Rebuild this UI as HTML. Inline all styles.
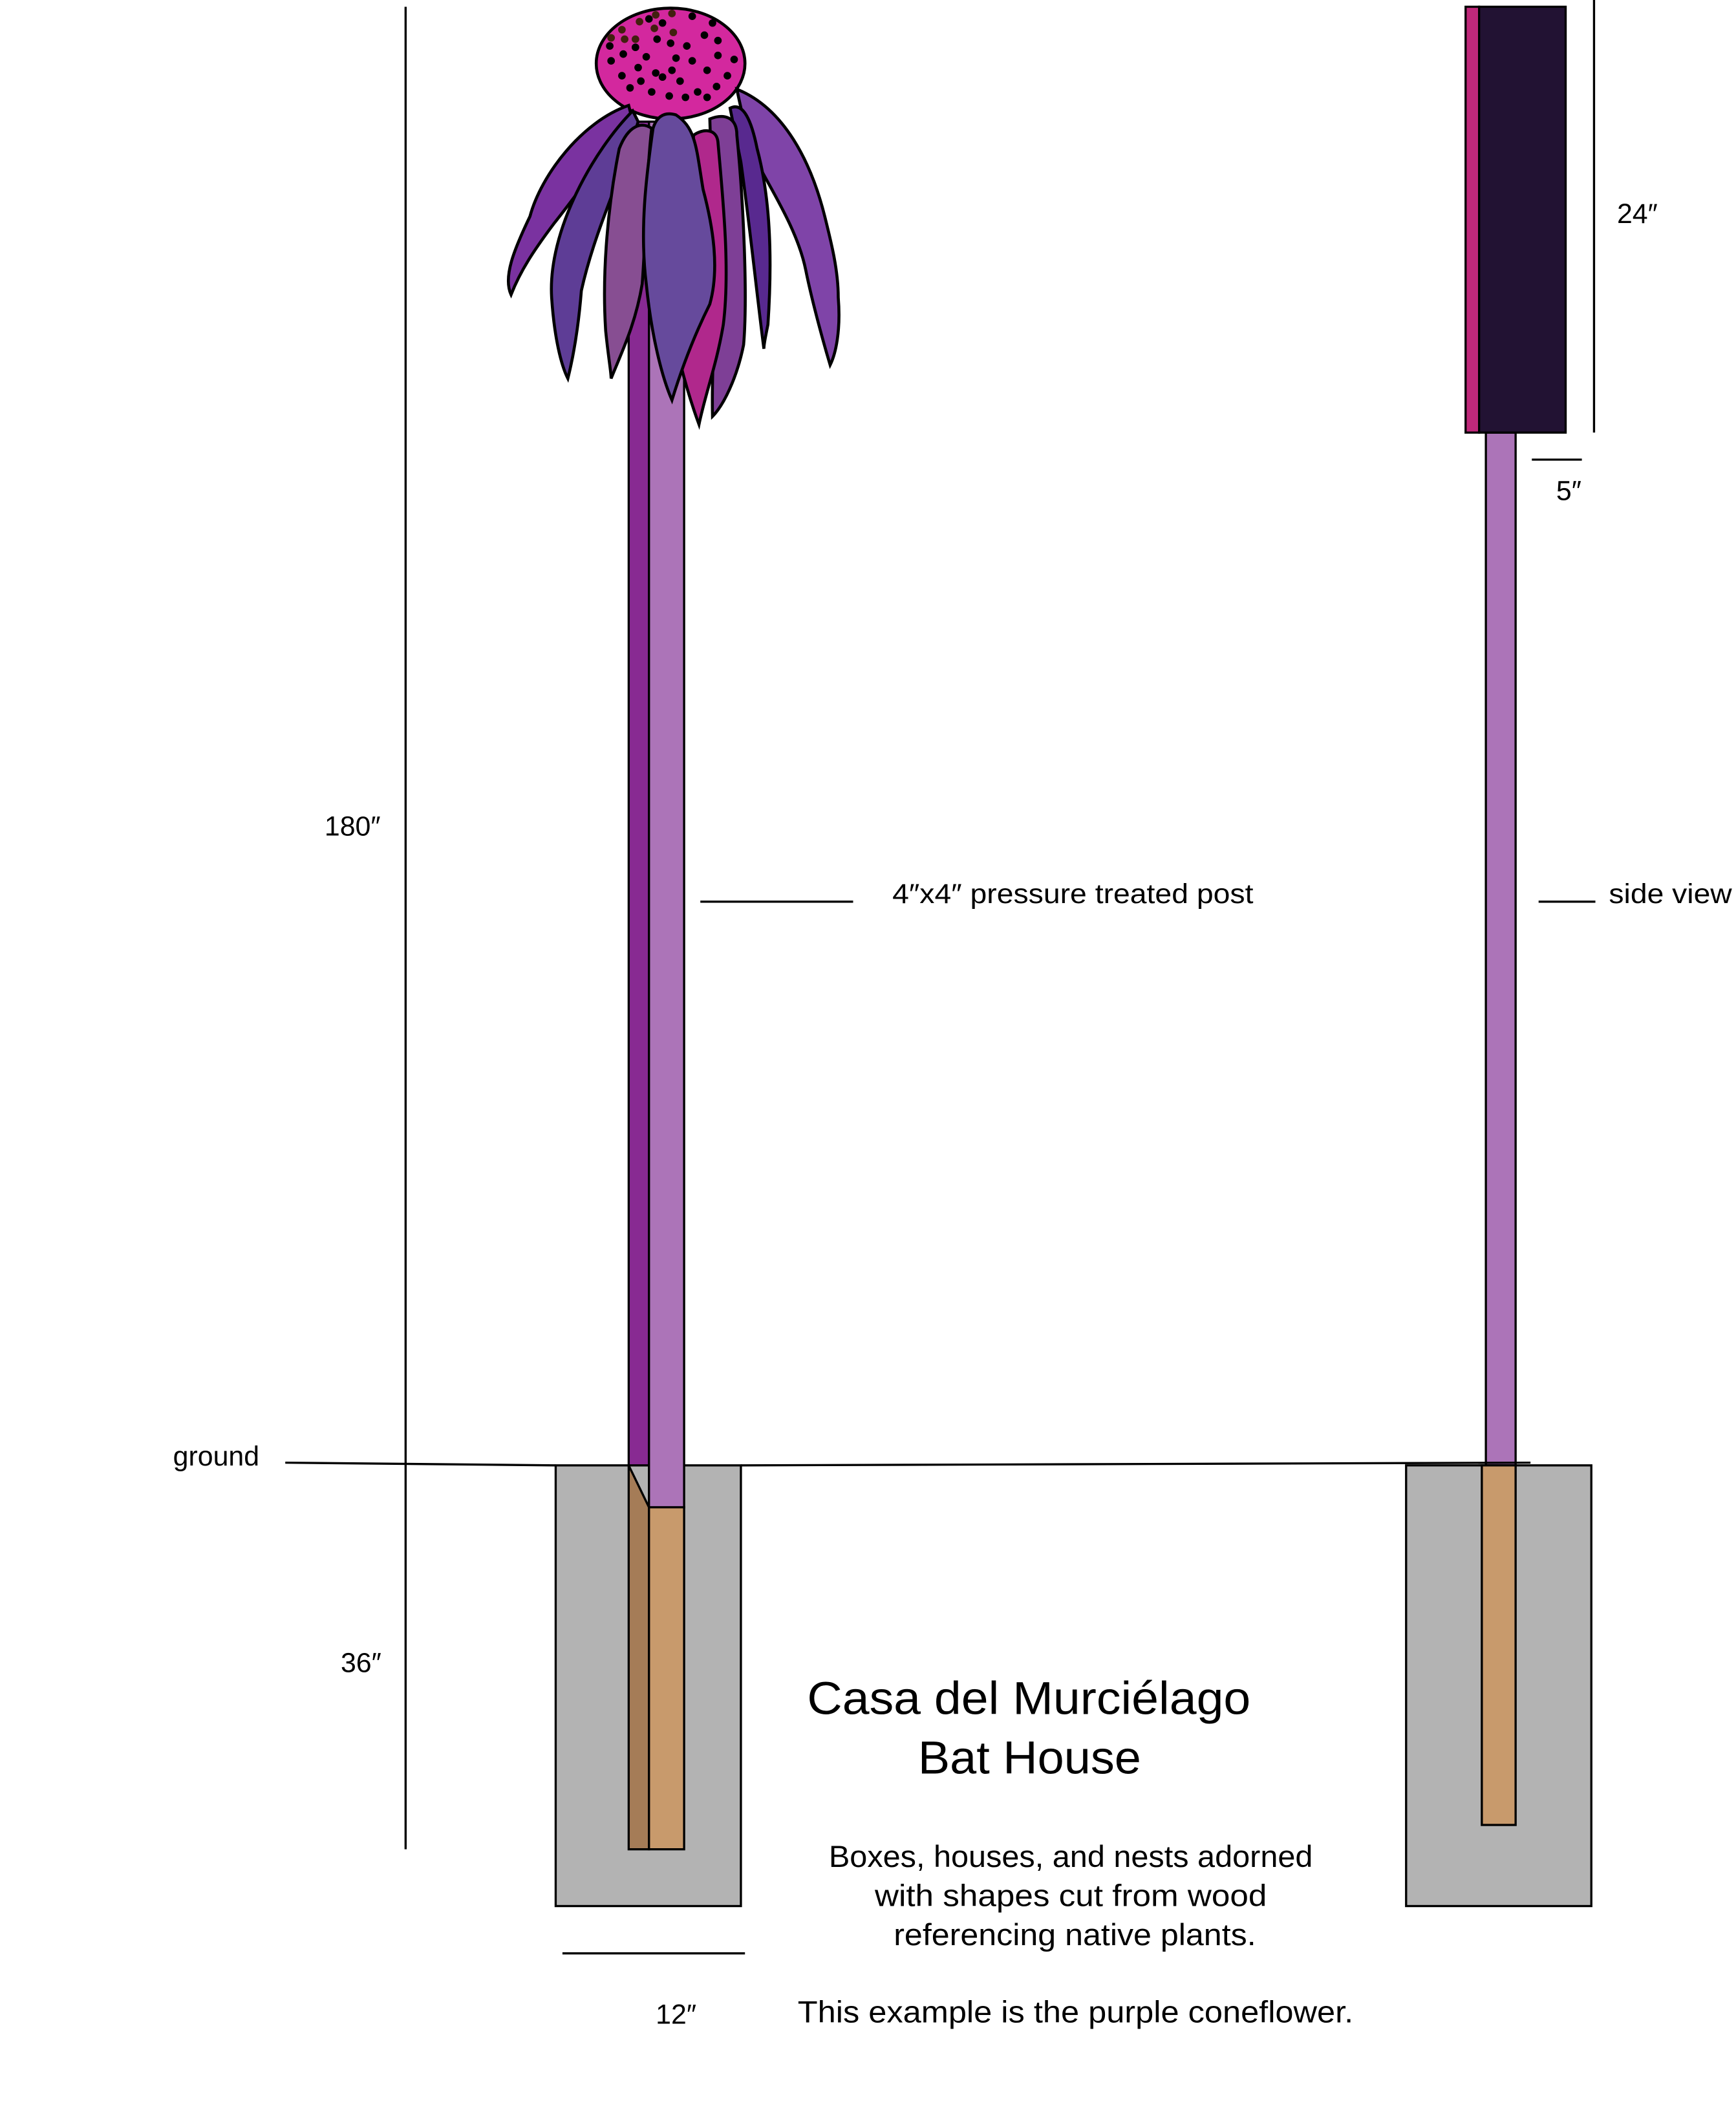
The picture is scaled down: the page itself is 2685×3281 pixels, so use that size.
<!DOCTYPE html>
<html><head><meta charset="utf-8"><style>html,body{margin:0;padding:0;background:#fff}svg{display:block}</style></head>
<body>
<svg width="2685" height="3281" viewBox="0 0 1284 1569" preserveAspectRatio="none" xmlns="http://www.w3.org/2000/svg" font-family="Liberation Sans, sans-serif">
<g stroke="#000" stroke-width="1.6">
<rect x="411" y="1084" width="137" height="326" fill="#b3b3b3"/>
<rect x="1040" y="1084" width="137" height="326" fill="#b3b3b3"/>
<rect x="465" y="90" width="15" height="994" fill="#882a92"/>
<rect x="480" y="90" width="26" height="1025" fill="#ac74b8"/>
<path d="M465 1084 L480 1115 L480 1368 L465 1368 Z" fill="#a57c57"/>
<rect x="480" y="1115" width="26" height="253" fill="#c89a6c"/>
<rect x="1099" y="320" width="22" height="764" fill="#ac74b8"/>
<rect x="1096" y="1084" width="25" height="266" fill="#c89a6c"/>
<rect x="1084" y="5" width="10" height="315" fill="#c0297a"/>
<rect x="1094" y="5" width="64" height="315" fill="#221233"/>
</g>
<g stroke="#000" stroke-width="2.2">
<ellipse cx="496" cy="47" rx="55" ry="41" fill="#d3289e"/>
<path d="M465 78 C430 90,400 130,392 160 C380 185,372 205,378 218 C385 200,395 185,410 165 C430 140,450 110,468 90 Z" fill="#7a32a0"/>
<path d="M545 66 C580 80,600 120,610 160 C615 180,620 200,620 220 C622 245,618 262,614 270 C608 250,600 220,596 200 C590 170,570 140,560 120 C552 100,548 80,545 66 Z" fill="#7f44a8"/>
<path d="M540 80 C550 75,556 90,560 110 C568 140,572 180,568 240 C566 250,565 255,565 258 C560 220,555 170,548 120 Z" fill="#58298f"/>
<path d="M468 82 C440 110,405 170,408 220 C410 250,415 270,420 280 C425 260,428 240,430 215 C440 170,460 130,472 90 Z" fill="#5e3d96"/>
<path d="M525 88 C535 84,545 86,545 100 C550 150,553 220,550 255 C545 280,535 300,527 308 C526 260,532 200,527 150 Z" fill="#7e3f96"/>
<path d="M513 100 C520 95,530 95,531 105 C535 150,540 200,535 240 C530 270,522 290,517 314 C510 295,506 280,503 268 Z" fill="#b0288c"/>
<path d="M458 110 C450 150,445 200,448 245 C450 265,452 275,452 280 C460 260,470 240,475 210 C478 170,478 130,482 95 C475 90,465 92,458 110 Z" fill="#874e92"/>
<path d="M483 95 C478 130,473 170,478 210 C482 250,490 280,497 296 C505 270,515 245,525 225 C532 200,528 170,520 140 C515 110,515 95,500 85 C490 82,485 88,483 95 Z" fill="#664a9c"/>
</g>
<g fill="#000">
<circle cx="452" cy="28" r="2.8" fill="#42200f"/><circle cx="460" cy="22" r="2.8" fill="#42200f"/><circle cx="473" cy="16" r="2.8" fill="#42200f"/><circle cx="485" cy="11" r="2.8" fill="#42200f"/><circle cx="497" cy="10" r="2.8" fill="#42200f"/><circle cx="470" cy="29" r="2.8" fill="#42200f"/><circle cx="484" cy="21" r="2.8" fill="#42200f"/><circle cx="498" cy="24" r="2.8" fill="#42200f"/><circle cx="462" cy="29" r="2.8" fill="#42200f"/>
<circle cx="480" cy="14" r="2.8"/><circle cx="512" cy="12" r="2.8"/><circle cx="527" cy="17" r="2.8"/><circle cx="490" cy="17" r="2.8"/>
<circle cx="451" cy="34" r="2.8"/><circle cx="470" cy="35" r="2.8"/><circle cx="486" cy="29" r="2.8"/><circle cx="496" cy="32" r="2.8"/><circle cx="508" cy="34" r="2.8"/><circle cx="531" cy="30" r="2.8"/><circle cx="521" cy="26" r="2.8"/>
<circle cx="461" cy="40" r="2.8"/><circle cx="478" cy="42" r="2.8"/><circle cx="500" cy="43" r="2.8"/><circle cx="512" cy="45" r="2.8"/><circle cx="531" cy="41" r="2.8"/><circle cx="543" cy="44" r="2.8"/>
<circle cx="452" cy="45" r="2.8"/><circle cx="472" cy="50" r="2.8"/><circle cx="485" cy="54" r="2.8"/><circle cx="497" cy="52" r="2.8"/><circle cx="523" cy="52" r="2.8"/><circle cx="538" cy="56" r="2.8"/>
<circle cx="460" cy="56" r="2.8"/><circle cx="474" cy="60" r="2.8"/><circle cx="490" cy="57" r="2.8"/><circle cx="503" cy="60" r="2.8"/><circle cx="516" cy="68" r="2.8"/><circle cx="530" cy="64" r="2.8"/>
<circle cx="466" cy="65" r="2.8"/><circle cx="482" cy="68" r="2.8"/><circle cx="495" cy="71" r="2.8"/><circle cx="507" cy="72" r="2.8"/><circle cx="523" cy="72" r="2.8"/>
</g>
<g stroke="#000" stroke-width="1.6" fill="none">
<line x1="300" y1="5" x2="300" y2="1368"/>
<line x1="211" y1="1082" x2="411" y2="1084"/>
<line x1="548" y1="1084" x2="1132" y2="1082"/>
<line x1="1179" y1="0" x2="1179" y2="320"/>
<line x1="1133" y1="340" x2="1170" y2="340"/>
<line x1="416" y1="1445" x2="551" y2="1445"/>
<line x1="518" y1="667" x2="631" y2="667"/>
<line x1="1138" y1="667" x2="1180" y2="667"/>
</g>
<g font-size="20.5" fill="#000">
<text x="240" y="618">180″</text>
<text x="660" y="668" textLength="267" lengthAdjust="spacingAndGlyphs">4″x4″ pressure treated post</text>
<text x="1190" y="668" textLength="91" lengthAdjust="spacingAndGlyphs">side view</text>
<text x="128" y="1084">ground</text>
<text x="252" y="1237">36″</text>
<text x="1196" y="165">24″</text>
<text x="1151" y="370">5″</text>
<text x="485" y="1497">12″</text>
</g>
<g fill="#000" font-size="22.5">
<text x="597" y="1268" font-size="34" textLength="328" lengthAdjust="spacingAndGlyphs">Casa del Murciélago</text>
<text x="679" y="1312" font-size="34" textLength="165" lengthAdjust="spacingAndGlyphs">Bat House</text>
<text x="613" y="1381" textLength="358" lengthAdjust="spacingAndGlyphs">Boxes, houses, and nests adorned</text>
<text x="647" y="1410" textLength="290" lengthAdjust="spacingAndGlyphs">with shapes cut from wood</text>
<text x="661" y="1439" textLength="268" lengthAdjust="spacingAndGlyphs">referencing native plants.</text>
<text x="590" y="1496" textLength="411" lengthAdjust="spacingAndGlyphs">This example is the purple coneflower.</text>
</g>
</svg>
</body></html>
